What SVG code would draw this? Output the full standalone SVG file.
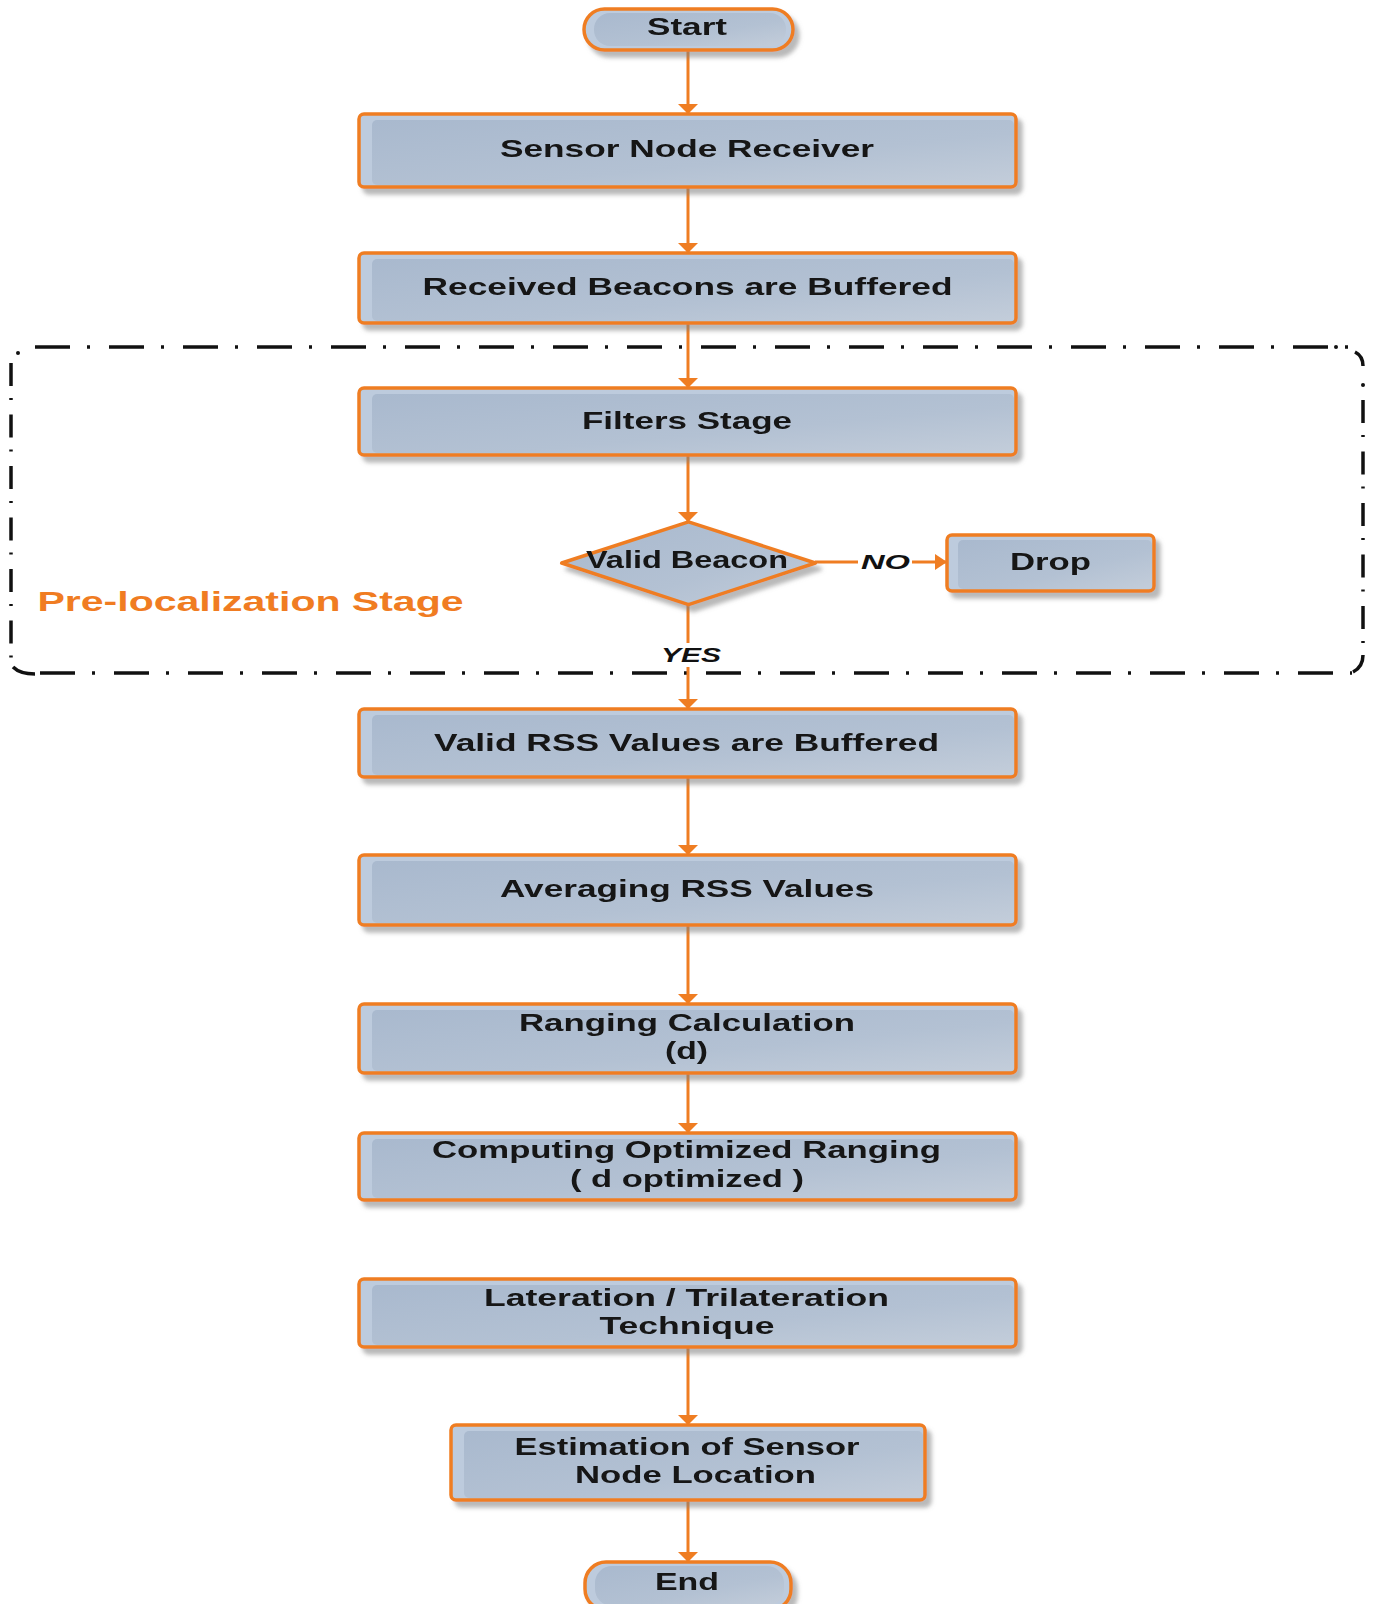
<svg xmlns="http://www.w3.org/2000/svg" width="1374" height="1604" viewBox="0 0 1374 1604">
<style>
.box{fill:#bdcbdd;stroke:#ef7d22;stroke-width:3.5}
.inner{fill:url(#g)}
.t{font-family:"Liberation Sans",Arial,sans-serif;font-weight:bold;font-size:24px;fill:#141414;text-anchor:middle}
.lbl{font-family:"Liberation Sans",Arial,sans-serif;font-weight:bold;font-style:italic;font-size:21px;fill:#111;text-anchor:middle}
.con{stroke:#ef7d22;stroke-width:3;fill:none}
.dh{stroke:#111;stroke-width:3.5;fill:none;stroke-dasharray:35 17 3 19}
.dv{stroke:#111;stroke-width:3.5;fill:none;stroke-dasharray:23 12 2 14.5}
.corner{stroke:#111;stroke-width:3.5;fill:none}
</style>
<defs>
<linearGradient id="g" x1="0" y1="0" x2="1" y2="1">
<stop offset="0" stop-color="#a9b9ce"/>
<stop offset="0.6" stop-color="#b3c1d3"/>
<stop offset="1" stop-color="#c3cdda"/>
</linearGradient>
<filter id="sh" x="-5%" y="-20%" width="112%" height="150%">
<feDropShadow dx="5" dy="6" stdDeviation="2" flood-color="#808080" flood-opacity="0.55"/>
</filter>
<marker id="av" viewBox="0 0 20 10" refX="10" refY="10" markerWidth="20" markerHeight="10" markerUnits="userSpaceOnUse" orient="0">
<path d="M0,0 L20,0 L10,10 Z" fill="#ef7d22"/>
</marker>
<marker id="ah" viewBox="0 0 12 16" refX="12" refY="8" markerWidth="12" markerHeight="16" markerUnits="userSpaceOnUse" orient="0">
<path d="M0,0 L12,8 L0,16 Z" fill="#ef7d22"/>
</marker>
</defs>
<rect width="1374" height="1604" fill="#fff"/>

<g id="prelocalization-region">
<path class="dh" d="M35,347 H1350"/>
<path class="dh" d="M40,673 H1352"/>
<path class="dv" d="M11,363 V662"/>
<path class="dv" d="M1363,400 V652"/>
<circle cx="18" cy="353" r="2" fill="#111"/>
<circle cx="1336" cy="347" r="2" fill="#111"/>
<path class="corner" d="M1355,352 Q1363,356 1363,366"/>
<path class="corner" d="M13,667 Q20,674 35,674"/>
<path class="corner" d="M1353,672 Q1363,667 1363,655"/>
<circle cx="1363" cy="385" r="2" fill="#111"/>
<text x="250.5" y="611" font-family="Liberation Sans,Arial,sans-serif" font-weight="bold" font-size="27" fill="#f07c22" text-anchor="middle" textLength="426" lengthAdjust="spacingAndGlyphs">Pre-localization Stage</text>
</g>

<g id="connectors">
<path class="con" d="M688,50 V114" marker-end="url(#av)"/>
<path class="con" d="M688,187 V253" marker-end="url(#av)"/>
<path class="con" d="M688,323 V388" marker-end="url(#av)"/>
<path class="con" d="M688,455 V522" marker-end="url(#av)"/>
<path class="con" d="M688,604 V643"/>
<path class="con" d="M688,667 V709" marker-end="url(#av)"/>
<path class="con" d="M815,562 H858"/>
<path class="con" d="M912,562 H947" marker-end="url(#ah)"/>
<path class="con" d="M688,777 V855" marker-end="url(#av)"/>
<path class="con" d="M688,925 V1004" marker-end="url(#av)"/>
<path class="con" d="M688,1073 V1133" marker-end="url(#av)"/>
<path class="con" d="M688,1347 V1425" marker-end="url(#av)"/>
<path class="con" d="M688,1500 V1562" marker-end="url(#av)"/>
<text class="lbl" x="885.5" y="569" textLength="49" lengthAdjust="spacingAndGlyphs">NO</text>
<text class="lbl" x="691" y="662" textLength="60" lengthAdjust="spacingAndGlyphs">YES</text>
</g>

<g id="start" filter="url(#sh)">
<rect class="box" x="584" y="9" width="209" height="41" rx="20.5"/>
<rect class="inner" x="594" y="13" width="192" height="33" rx="16"/>
<text class="t" x="687" y="35" textLength="80" lengthAdjust="spacingAndGlyphs">Start</text>
</g>

<g id="sensor-node-receiver" filter="url(#sh)">
<rect class="box" x="359" y="114" width="657" height="73" rx="5"/>
<rect class="inner" x="372" y="120" width="642" height="65" rx="5"/>
<text class="t" x="687" y="157" textLength="374" lengthAdjust="spacingAndGlyphs">Sensor Node Receiver</text>
</g>

<g id="received-beacons" filter="url(#sh)">
<rect class="box" x="359" y="253" width="657" height="70" rx="5"/>
<rect class="inner" x="372" y="259" width="642" height="62" rx="5"/>
<text class="t" x="687.5" y="295" textLength="530" lengthAdjust="spacingAndGlyphs">Received Beacons are Buffered</text>
</g>

<g id="filters-stage" filter="url(#sh)">
<rect class="box" x="359" y="388" width="657" height="67" rx="5"/>
<rect class="inner" x="372" y="394" width="642" height="59" rx="5"/>
<text class="t" x="687" y="429" textLength="210" lengthAdjust="spacingAndGlyphs">Filters Stage</text>
</g>

<g id="valid-beacon" filter="url(#sh)">
<polygon points="561.7,563 688.5,521.8 815.4,563 688.5,604.7" fill="url(#g)" stroke="#ef7d22" stroke-width="3.5" stroke-linejoin="round"/>
<text class="t" x="687" y="568" font-size="22" textLength="202" lengthAdjust="spacingAndGlyphs">Valid Beacon</text>
</g>

<g id="drop" filter="url(#sh)">
<rect class="box" x="947" y="535" width="207" height="56" rx="5"/>
<rect class="inner" x="958" y="540" width="194" height="49" rx="5"/>
<text class="t" x="1050.5" y="570" textLength="81" lengthAdjust="spacingAndGlyphs">Drop</text>
</g>

<g id="valid-rss" filter="url(#sh)">
<rect class="box" x="359" y="709" width="657" height="68" rx="5"/>
<rect class="inner" x="372" y="715" width="642" height="60" rx="5"/>
<text class="t" x="686.5" y="751" textLength="505" lengthAdjust="spacingAndGlyphs">Valid RSS Values are Buffered</text>
</g>

<g id="averaging-rss" filter="url(#sh)">
<rect class="box" x="359" y="855" width="657" height="70" rx="5"/>
<rect class="inner" x="372" y="861" width="642" height="62" rx="5"/>
<text class="t" x="687" y="897" textLength="374" lengthAdjust="spacingAndGlyphs">Averaging RSS Values</text>
</g>

<g id="ranging-calculation" filter="url(#sh)">
<rect class="box" x="359" y="1004" width="657" height="69" rx="5"/>
<rect class="inner" x="372" y="1010" width="642" height="61" rx="5"/>
<text class="t" x="687" y="1031" textLength="336" lengthAdjust="spacingAndGlyphs">Ranging Calculation</text>
<text class="t" x="686.5" y="1059" textLength="43" lengthAdjust="spacingAndGlyphs">(d)</text>
</g>

<g id="computing-optimized" filter="url(#sh)">
<rect class="box" x="359" y="1133" width="657" height="67" rx="5"/>
<rect class="inner" x="372" y="1139" width="642" height="59" rx="5"/>
<text class="t" x="686.5" y="1158" textLength="509" lengthAdjust="spacingAndGlyphs">Computing Optimized Ranging</text>
<text class="t" x="687" y="1187" textLength="234" lengthAdjust="spacingAndGlyphs">( d optimized )</text>
</g>

<g id="lateration" filter="url(#sh)">
<rect class="box" x="359" y="1279" width="657" height="68" rx="5"/>
<rect class="inner" x="372" y="1285" width="642" height="60" rx="5"/>
<text class="t" x="686.5" y="1306" textLength="405" lengthAdjust="spacingAndGlyphs">Lateration / Trilateration</text>
<text class="t" x="687" y="1334" textLength="175" lengthAdjust="spacingAndGlyphs">Technique</text>
</g>

<g id="estimation" filter="url(#sh)">
<rect class="box" x="451" y="1425" width="474" height="75" rx="5"/>
<rect class="inner" x="464" y="1431" width="459" height="67" rx="5"/>
<text class="t" x="687" y="1455" textLength="345" lengthAdjust="spacingAndGlyphs">Estimation of Sensor</text>
<text class="t" x="695.5" y="1483" textLength="241" lengthAdjust="spacingAndGlyphs">Node Location</text>
</g>

<g id="end" filter="url(#sh)">
<rect class="box" x="585" y="1562" width="206" height="48" rx="21"/>
<rect class="inner" x="595" y="1566" width="189" height="40" rx="17"/>
<text class="t" x="687" y="1590" textLength="64" lengthAdjust="spacingAndGlyphs">End</text>
</g>
</svg>
